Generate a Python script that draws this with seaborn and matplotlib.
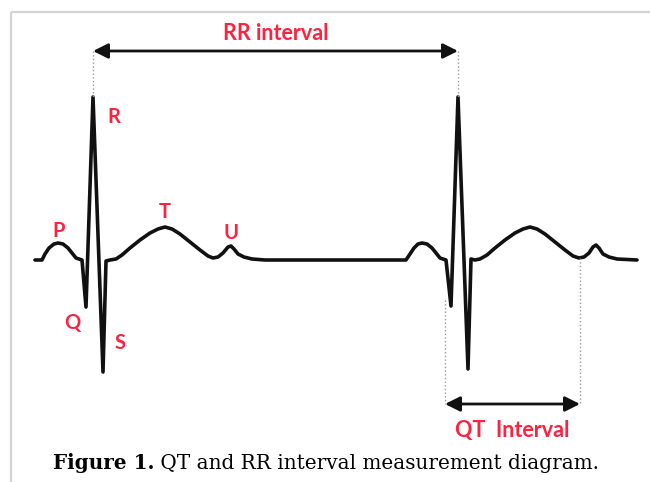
import matplotlib
matplotlib.use("Agg")
import matplotlib.pyplot as plt
import seaborn as sns
import pandas as pd
from matplotlib.patches import Rectangle

# ECG trace (x = time, y = deflection, image units, y grows downward)
trace_x = [35, 42, 45, 49, 54, 58, 63, 68, 72, 76, 82, 86, 93, 103, 106, 110, 116,
           122, 130, 140, 150, 158, 165, 172, 180, 190, 200, 208, 213, 218, 223, 228,
           231, 234, 238, 244, 252, 265, 300, 350,
           400, 406, 410, 414, 418, 422, 427, 432, 436, 440, 446, 451, 458, 468, 471,
           475, 480, 487, 495, 505, 515, 523, 530, 537, 545, 555, 565, 573, 579, 584,
           589, 593, 596, 599, 603, 609, 617, 637]
trace_y = [260, 260, 254, 248, 244, 243, 244, 248, 253, 258, 260, 307, 97, 372, 261, 260, 259,
           255, 248, 240, 233, 229, 227, 229, 234, 242, 250, 256, 258, 257, 253, 247,
           246, 249, 254, 257, 259, 260, 260, 260,
           260, 260, 254, 248, 244, 243, 244, 248, 253, 258, 260, 306, 97, 369, 259,
           260, 259, 255, 248, 240, 233, 229, 227, 229, 234, 242, 250, 256, 258, 257,
           253, 247, 245, 248, 254, 257, 259, 260]

# wave labels and where they sit
wave_names = ["P", "Q", "R", "S", "T", "U"]
wave_x = [59, 72, 114, 120, 165, 231]
wave_y = [231, 323, 117, 343, 212, 233]

# interval markers
r_peaks = [93, 458]
qt_start, qt_end = 445, 580
rr_level, qt_level = 51, 404

red = "#fa2440"

sns.set_style("white")
plt.rcParams["font.family"] = ["Lato", "DejaVu Sans"]

fig = plt.figure(figsize=(6.5, 4.82), dpi=100)
ax = fig.add_axes([0, 0, 1, 1])
ax.set_xlim(0, 650)
ax.set_ylim(482, 0)
ax.axis("off")

# light frame of the figure panel
ax.add_patch(Rectangle((11, 12), 700, 500, fill=False, edgecolor="#d4d4d4", lw=1.6))

df = pd.DataFrame({"t": trace_x, "v": trace_y})
sns.lineplot(data=df, x="t", y="v", sort=False, estimator=None, color="#111111",
             lw=2.6, ax=ax)

# dotted guide lines
for rp in r_peaks:
    ax.plot([rp, rp], [rr_level, 97], ls=":", color="#9a9a9a", lw=1)
ax.plot([qt_start, qt_start], [300, qt_level], ls=":", color="#9a9a9a", lw=1)
ax.plot([qt_end, qt_end], [258, qt_level], ls=":", color="#9a9a9a", lw=1)

# arrows
arrow = dict(arrowstyle="<|-|>,head_length=0.9,head_width=0.45", color="#111111",
             lw=2, shrinkA=0, shrinkB=0)
ax.annotate("", xy=(r_peaks[0], rr_level), xytext=(r_peaks[1], rr_level), arrowprops=arrow)
ax.annotate("", xy=(qt_start, qt_level), xytext=(qt_end, qt_level), arrowprops=arrow)

ax.text(sum(r_peaks) / 2, 33, "RR interval", color=red, fontsize=15.5,
        fontweight="bold", ha="center", va="center")
ax.text((qt_start + qt_end) / 2, 431, "QT  Interval", color=red, fontsize=15.5,
        fontweight="bold", ha="center", va="center")

for name, x, y in zip(wave_names, wave_x, wave_y):
    ax.text(x, y, name, color=red, fontsize=14.5, fontweight="bold",
            ha="center", va="center")

# caption: bold "Figure 1." followed by regular text
cap = ax.text(53, 463, "Figure 1.", fontsize=14.4, fontweight="bold", color="black",
              family="DejaVu Serif", ha="left", va="center")
ax.annotate(" QT and RR interval measurement diagram.", xy=(1, 0), xycoords=cap,
            fontsize=14.4, family="DejaVu Serif", color="black", ha="left", va="bottom")

fig.savefig("out.png", dpi=100)
